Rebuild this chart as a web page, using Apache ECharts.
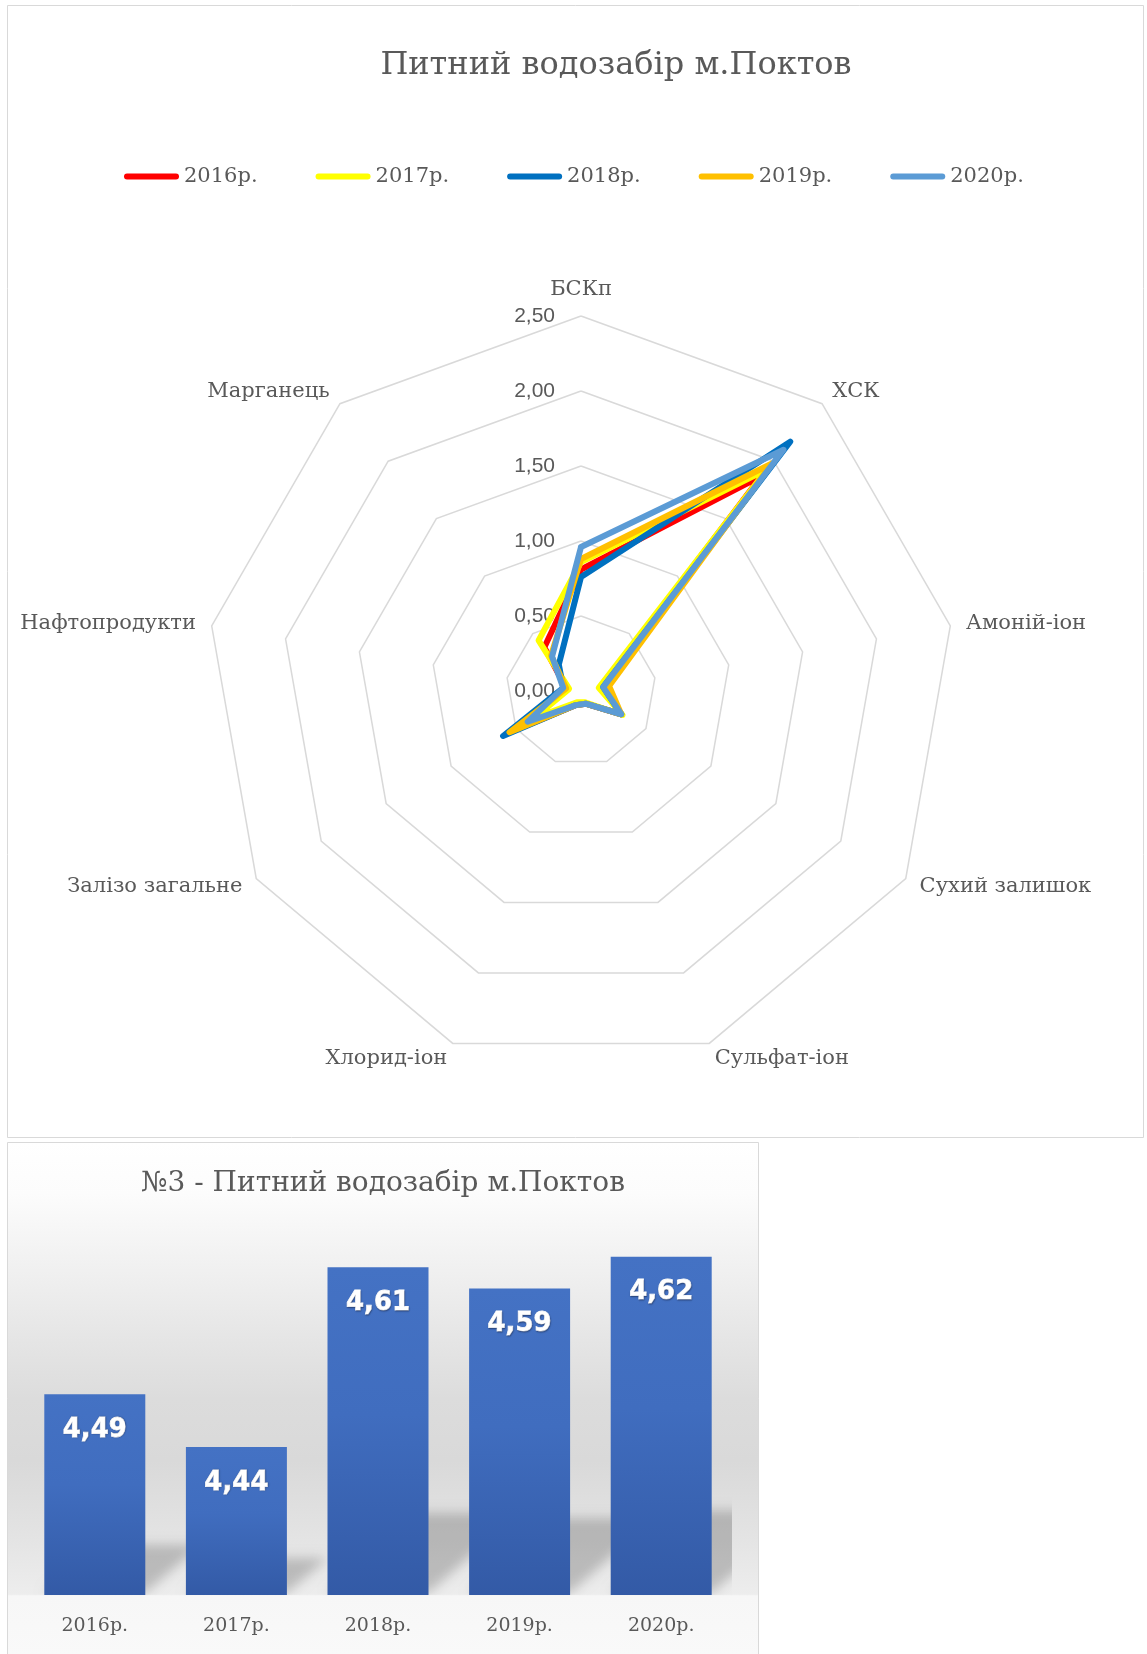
<!DOCTYPE html>
<html>
<head>
<meta charset="utf-8">
<script src="https://cdn.jsdelivr.net/npm/echarts@6/dist/echarts.min.js"></script>
<style>
  html, body { margin: 0; padding: 0; background: #ffffff; }
  #chart { width: 1147px; height: 1654px; }
</style>
</head>
<body>
<div id="chart"></div>
<script>
// Water-quality indicators for the Poktov drinking-water intake (clockwise from the top)
const indicators = ['БСКп', 'ХСК', 'Амоній-іон', 'Сухий залишок', 'Сульфат-іон',
                    'Хлорид-іон', 'Залізо загальне', 'Нафтопродукти', 'Марганець'];
const years = ['2016р.', '2017р.', '2018р.', '2019р.', '2020р.'];

// Relative indicator values per year (same order as indicators)
const values2016 = [0.81, 1.87, 0.14, 0.31, 0.09, 0.10, 0.56, 0.10, 0.38];
const values2017 = [0.86, 1.93, 0.12, 0.32, 0.08, 0.08, 0.36, 0.08, 0.44];
const values2018 = [0.76, 2.17, 0.15, 0.31, 0.09, 0.10, 0.60, 0.12, 0.23];
const values2019 = [0.88, 1.98, 0.19, 0.31, 0.09, 0.10, 0.55, 0.10, 0.31];
const values2020 = [0.96, 2.10, 0.15, 0.31, 0.09, 0.10, 0.41, 0.12, 0.30];
const yearValues = [values2016, values2017, values2018, values2019, values2020];
const yearColors = ['#FF0000', '#FFFF00', '#0070C0', '#FFC000', '#5B9BD5'];

// Radar scale: 0,00 … 2,50 in steps of 0,50
const radarMin = 0;
const radarMax = 2.5;
const radarSplits = 5;

// Integral index per year (bar chart)
const indexValues = [4.49, 4.44, 4.61, 4.59, 4.62];
const indexAxisMin = 4.3;
const indexAxisMax = 4.65;

const fmt = v => Number(v).toFixed(2).replace('.', ',');
const GREY = '#595959';
const SERIF = '"DejaVu Serif", serif';

// ECharts lays radar indicators out counter-clockwise; keep the first one on top
// and walk the rest backwards so they read clockwise.
const radarOrder = [0].concat(indicators.map((_, i) => i).slice(1).reverse());
const orderedIndicators = radarOrder.map(i => indicators[i]);
const orderValues = arr => radarOrder.map(i => arr[i]);

const chart = echarts.init(document.getElementById('chart'), null, { renderer: 'canvas' });

const barFill = new echarts.graphic.LinearGradient(0, 0, 0, 1, [
  { offset: 0, color: '#4472C4' },
  { offset: 0.45, color: '#406DBF' },
  { offset: 1, color: '#335AA6' }
]);

const panelFill = new echarts.graphic.LinearGradient(0, 0, 0, 1, [
  { offset: 0, color: '#ffffff' },
  { offset: 0.1, color: '#fcfcfc' },
  { offset: 0.3, color: '#ececec' },
  { offset: 0.5, color: '#dcdcdc' },
  { offset: 0.62, color: '#d9d9d9' },
  { offset: 0.75, color: '#e2e2e2' },
  { offset: 0.88, color: '#ededed' },
  { offset: 0.883, color: '#f7f7f7' },
  { offset: 1, color: '#f9f9f9' }
]);

// Soft perspective shadow cast up and to the right behind each bar
const SHADOW_SHIFT = 3000;
function renderBarShadow(params, api) {
  const cat = api.value(0);
  const top = api.coord([cat, api.value(1)]);
  const base = api.coord([cat, indexAxisMin]);
  const halfW = api.size([1, 0])[0] * 0.715 / 2;
  const h = (base[1] - top[1]) * 0.25;
  const skew = h * 1.1;
  const x0 = base[0] - halfW - SHADOW_SHIFT;
  const x1 = base[0] + halfW - SHADOW_SHIFT;
  return {
    type: 'polygon',
    shape: { points: [[x0, base[1] - 2], [x1, base[1] - 2], [x1 + skew, base[1] - h], [x0 + skew, base[1] - h]] },
    style: {
      fill: '#000',
      shadowColor: 'rgba(0,0,0,0.20)',
      shadowBlur: 12,
      shadowOffsetX: SHADOW_SHIFT
    }
  };
}

const radarSeries = years.map((y, k) => ({
  type: 'radar',
  name: y,
  radarIndex: 0,
  symbol: 'none',
  z: 2 + k,
  color: yearColors[k],
  itemStyle: { color: yearColors[k] },
  lineStyle: { color: yearColors[k], width: 6, join: 'round', cap: 'round' },
  data: [{ name: y, value: orderValues(yearValues[k]) }]
}));

chart.setOption({
  animation: false,
  backgroundColor: '#ffffff',
  graphic: [
    { type: 'rect', z: -5, shape: { x: 7.5, y: 5.5, width: 1136, height: 1132 },
      style: { fill: '#ffffff', stroke: '#D9D9D9', lineWidth: 1 } },
    { type: 'rect', z: -5, shape: { x: 7.5, y: 1142.5, width: 751, height: 513 },
      style: { fill: panelFill, stroke: '#D9D9D9', lineWidth: 1 } },
    { type: 'text', z: 5, x: 616, y: 66,
      style: { text: 'Питний водозабір м.Поктов', font: '32px ' + SERIF, fill: GREY,
               align: 'center', verticalAlign: 'middle' } },
    { type: 'text', z: 5, x: 383, y: 1184,
      style: { text: '№3 - Питний водозабір м.Поктов', font: '28px ' + SERIF, fill: GREY,
               align: 'center', verticalAlign: 'middle' } }
  ],
  legend: {
    data: years,
    left: 119,
    top: 161,
    itemWidth: 55,
    itemHeight: 6,
    itemGap: 58,
    icon: 'path://M3,0 H52 A3,3 0 0 1 52,6 H3 A3,3 0 0 1 3,0 Z',
    textStyle: { fontFamily: SERIF, fontSize: 21, color: GREY }
  },
  radar: {
    center: [581, 691],
    radius: 375,
    startAngle: 90,
    splitNumber: radarSplits,
    shape: 'polygon',
    nameGap: 16,
    axisName: { color: GREY, fontFamily: SERIF, fontSize: 21 },
    axisLine: { show: false },
    axisTick: { show: false },
    splitArea: { show: false },
    splitLine: { lineStyle: { color: '#D9D9D9', width: 1.5 } },
    axisLabel: { show: false },
    indicator: orderedIndicators.map((name, i) => {
      const ind = { name: name, min: radarMin, max: radarMax };
      if (i === 0) {
        ind.axisLabel = {
          show: true, margin: 26, formatter: fmt,
          color: GREY, fontFamily: '"Liberation Sans", sans-serif', fontSize: 21
        };
      }
      return ind;
    })
  },
  grid: { left: 24, top: 1225, width: 708, height: 370, containLabel: false },
  xAxis: {
    type: 'category',
    data: years,
    axisLine: { show: false },
    axisTick: { show: false },
    axisLabel: { color: GREY, fontFamily: SERIF, fontSize: 19, margin: 22 }
  },
  yAxis: { type: 'value', min: indexAxisMin, max: indexAxisMax, show: false, splitLine: { show: false } },
  series: [
    ...radarSeries,
    {
      type: 'custom',
      name: 'shadow',
      clip: true,
      z: 1,
      silent: true,
      renderItem: renderBarShadow,
      encode: { x: 0, y: 1 },
      data: indexValues.map((v, i) => [i, v])
    },
    {
      type: 'bar',
      name: 'index',
      z: 3,
      barWidth: 101,
      itemStyle: { color: barFill },
      label: {
        show: true,
        position: 'insideTop',
        distance: 23,
        formatter: p => fmt(p.value),
        color: '#ffffff',
        fontFamily: '"DejaVu Sans", sans-serif',
        fontWeight: 'bold',
        fontSize: 26,
        textBorderColor: '#ffffff',
        textBorderWidth: 0.8,
        textShadowColor: 'rgba(20,30,60,0.45)',
        textShadowBlur: 1.5,
        textShadowOffsetX: 0.5,
        textShadowOffsetY: 0.5
      },
      data: indexValues
    }
  ]
});
</script>
</body>
</html>
